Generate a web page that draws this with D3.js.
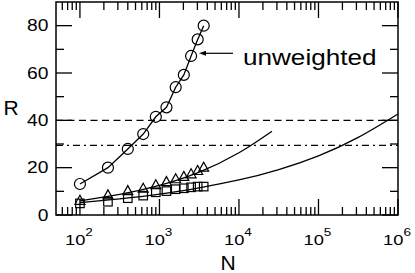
<!DOCTYPE html>
<html>
<head>
<meta charset="utf-8">
<script src="https://cdn.jsdelivr.net/npm/d3@7"></script>
<style>
  body { margin: 0; background: #fff; }
  svg { display: block; }
  text { font-family: "Liberation Sans", Arial, sans-serif; fill: #000; }
</style>
</head>
<body>
<svg id="chart" width="415" height="273"></svg>
<script>
// system sizes N = L^2, L = 10..60
const sizes = [100, 225, 400, 625, 900, 1225, 1600, 2025, 2500, 3025, 3600]
const unweighted = [13.1, 20.0, 27.9, 34.2, 41.5, 45.5, 54.0, 59.2, 67.2, 74.2, 80.0]
const triangles = [6.0, 8.3, 10.1, 11.1, 12.6, 13.9, 15.1, 16.1, 17.2, 18.6, 20.0]
const squares = [4.9, 5.6, 7.1, 8.2, 9.6, 10.1, 10.9, 11.3, 11.7, 12.0, 12.0]

// fit curves
const fitUpperN = [100, 316, 1000, 3162, 10000, 26000]
const fitUpperR = [6.0, 8.7, 12.5, 18.1, 26.3, 35.4]
const fitLowerN = [100, 316, 1000, 3162, 10000, 31623, 100000, 316228, 1000000]
const fitLowerR = [5.2, 6.8, 8.8, 11.5, 14.8, 19.2, 25.0, 32.8, 42.7]

const dashedLevel = 40
const dashDotLevel = 29.4

const xTicks = [2, 3, 4, 5, 6]
const yTicks = [0, 20, 40, 60, 80]

const svg = d3.select('#chart')
const plotLeft = 56, plotRight = 398, plotTop = 2, plotBottom = 215

const x = d3.scaleLog().domain([50, 1e6]).range([plotLeft, plotRight])
const y = d3.scaleLinear().domain([0, 90]).range([plotBottom, plotTop])

const stretch = 1.18
function label(txt, px, py, size, anchor, sx) {
    return svg.append('text')
        .attr('transform', `translate(${px},${py}) scale(${sx},1)`)
        .attr('text-anchor', anchor)
        .style('font-size', size + 'px')
        .text(txt)
}

// reference lines
svg.append('line')
    .attr('x1', plotLeft).attr('x2', plotRight)
    .attr('y1', y(dashedLevel)).attr('y2', y(dashedLevel))
    .attr('stroke', '#000').attr('stroke-width', 1.3)
    .attr('stroke-dasharray', '7,4.5')
svg.append('line')
    .attr('x1', plotLeft).attr('x2', plotRight)
    .attr('y1', y(dashDotLevel)).attr('y2', y(dashDotLevel))
    .attr('stroke', '#000').attr('stroke-width', 1.3)
    .attr('stroke-dasharray', '7,4,2,4')

// ticks, mirrored on all four sides
const g = svg.append('g').attr('stroke', '#000').attr('stroke-width', 1.3)
const majorLen = 16, minorLen = 8
const xMinor = []
for (let e = 1; e <= 5; e++) {
    for (let m = 2; m <= 9; m++) {
        const v = m * Math.pow(10, e)
        if (v > 50 && v < 1e6) xMinor.push(v)
    }
}
xMinor.forEach(v => {
    g.append('line').attr('x1', x(v)).attr('x2', x(v)).attr('y1', plotBottom).attr('y2', plotBottom - minorLen)
    g.append('line').attr('x1', x(v)).attr('x2', x(v)).attr('y1', plotTop).attr('y2', plotTop + minorLen)
})
xTicks.forEach(e => {
    const v = Math.pow(10, e)
    g.append('line').attr('x1', x(v)).attr('x2', x(v)).attr('y1', plotBottom).attr('y2', plotBottom - majorLen)
    g.append('line').attr('x1', x(v)).attr('x2', x(v)).attr('y1', plotTop).attr('y2', plotTop + majorLen)
})
d3.range(10, 90, 20).forEach(v => {
    g.append('line').attr('x1', plotLeft).attr('x2', plotLeft + minorLen).attr('y1', y(v)).attr('y2', y(v))
    g.append('line').attr('x1', plotRight).attr('x2', plotRight - minorLen).attr('y1', y(v)).attr('y2', y(v))
})
yTicks.forEach(v => {
    g.append('line').attr('x1', plotLeft).attr('x2', plotLeft + majorLen).attr('y1', y(v)).attr('y2', y(v))
    g.append('line').attr('x1', plotRight).attr('x2', plotRight - majorLen).attr('y1', y(v)).attr('y2', y(v))
})

// frame
svg.append('rect')
    .attr('x', plotLeft).attr('y', plotTop)
    .attr('width', plotRight - plotLeft).attr('height', plotBottom - plotTop)
    .attr('fill', 'none').attr('stroke', '#000').attr('stroke-width', 1.5)

// tick labels
yTicks.forEach(v => {
    label(String(v), 48.5, y(v) + 5.8, 16.3, 'end', stretch)
})
xTicks.forEach(e => {
    const t = svg.append('text')
        .attr('transform', `translate(${x(Math.pow(10, e)) - 1},245) scale(${stretch},1)`)
        .attr('text-anchor', 'middle')
        .style('font-size', '15.5px')
    t.append('tspan').text('10')
    t.append('tspan').attr('dy', -9).style('font-size', '11.5px').text(String(e))
})

// axis titles
label('N', 228, 270, 21, 'middle', 1)
label('R', 11, 115, 21, 'middle', 1)

// fit curves
const fitLine = d3.line()
    .x(d => x(d[0]))
    .y(d => y(d[1]))
    .curve(d3.curveNatural)
svg.append('path')
    .datum(fitUpperN.map((n, i) => [n, fitUpperR[i]]))
    .attr('d', fitLine)
    .attr('fill', 'none').attr('stroke', '#000').attr('stroke-width', 1.3)
svg.append('path')
    .datum(fitLowerN.map((n, i) => [n, fitLowerR[i]]))
    .attr('d', fitLine)
    .attr('fill', 'none').attr('stroke', '#000').attr('stroke-width', 1.3)

// unweighted data, joined by straight segments
const straight = d3.line().x(d => x(d[0])).y(d => y(d[1]))
svg.append('path')
    .datum(sizes.map((n, i) => [n, unweighted[i]]))
    .attr('d', straight)
    .attr('fill', 'none').attr('stroke', '#000').attr('stroke-width', 1.3)

svg.append('g').selectAll('circle')
    .data(sizes.map((n, i) => [n, unweighted[i]]))
    .join('circle')
    .attr('cx', d => x(d[0])).attr('cy', d => y(d[1]))
    .attr('r', 5.5)
    .attr('fill', 'none').attr('stroke', '#000').attr('stroke-width', 1.2)

svg.append('g').selectAll('path')
    .data(sizes.map((n, i) => [n, triangles[i]]))
    .join('path')
    .attr('transform', d => `translate(${x(d[0])},${y(d[1])})`)
    .attr('d', 'M0,-5.5L5,3.5L-5,3.5Z')
    .attr('fill', 'none').attr('stroke', '#000').attr('stroke-width', 1.2)

svg.append('g').selectAll('rect')
    .data(sizes.map((n, i) => [n, squares[i]]))
    .join('rect')
    .attr('x', d => x(d[0]) - 4.25).attr('y', d => y(d[1]) - 4.25)
    .attr('width', 8.5).attr('height', 8.5)
    .attr('fill', 'none').attr('stroke', '#000').attr('stroke-width', 1.2)

// annotation
svg.append('line')
    .attr('x1', 233).attr('x2', 205)
    .attr('y1', 53.3).attr('y2', 53.3)
    .attr('stroke', '#000').attr('stroke-width', 1.2)
svg.append('path')
    .attr('d', 'M199,53.3L206,50.8L206,55.8Z')
    .attr('fill', '#000')
label('unweighted', 243, 65, 22.5, 'start', 1.16)
</script>
</body>
</html>
